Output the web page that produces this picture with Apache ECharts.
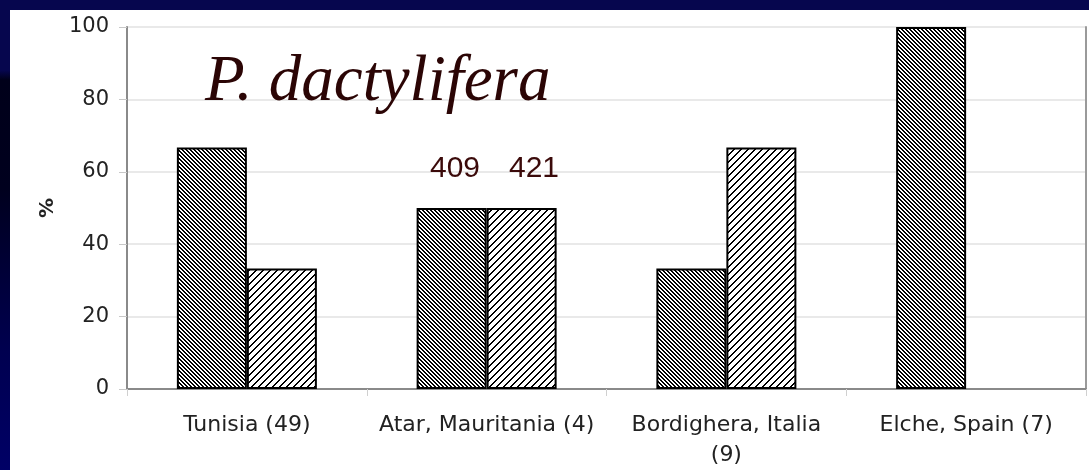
<!DOCTYPE html>
<html>
<head>
<meta charset="utf-8">
<script src="https://cdn.jsdelivr.net/npm/echarts@6/dist/echarts.min.js"></script>
<style>
  html, body { margin: 0; padding: 0; }
  #main { width: 1089px; height: 470px; }
</style>
</head>
<body>
<div id="main"></div>
<script>
// data
var categories = ['Tunisia (49)', 'Atar, Mauritania (4)', 'Bordighera, Italia\n(9)', 'Elche, Spain (7)']
var seriesA = [66.7, 50, 33.3, 100]
var seriesB = [33.3, 50, 66.7, 0]
var yTicks = { min: 0, max: 100, interval: 20 }

// pixel hatch: period px, 'on' px black per period, dir 'back' = \ , 'fwd' = /
function hatch (period, on, dir) {
  var c = document.createElement('canvas')
  c.width = period
  c.height = period
  var ctx = c.getContext('2d')
  ctx.fillStyle = '#fff'
  ctx.fillRect(0, 0, period, period)
  ctx.fillStyle = '#000'
  for (var y = 0; y < period; y++) {
    for (var x = 0; x < period; x++) {
      var k = dir === 'back' ? (x - y + period * 2) % period : (x + y) % period
      if (k < on) ctx.fillRect(x, y, 1, 1)
    }
  }
  return c
}

var chart = echarts.init(document.getElementById('main'))

var option = {
  backgroundColor: {
    type: 'linear', x: 0, y: 0, x2: 0, y2: 1,
    colorStops: [
      { offset: 0, color: '#06064e' },
      { offset: 0.15, color: '#06064e' },
      { offset: 0.17, color: '#00001a' },
      { offset: 0.4, color: '#00001e' },
      { offset: 0.75, color: '#000050' },
      { offset: 1, color: '#000066' }
    ]
  },
  animation: false,
  graphic: [
    {
      type: 'rect', z: -10, silent: true,
      shape: { x: 10, y: 10, width: 1079, height: 460 },
      style: { fill: '#fff' }
    },
    {
      type: 'text', left: 205, top: 50, z: 10,
      style: { text: 'P. dactylifera', font: 'italic 65px "Liberation Serif", "DejaVu Serif", serif', fill: '#2b0505' }
    },
    {
      type: 'text', left: 430, top: 154, z: 10,
      style: { text: '409', font: '30px "Liberation Sans", sans-serif', fill: '#3b0a0a' }
    },
    {
      type: 'text', left: 509, top: 154, z: 10,
      style: { text: '421', font: '30px "Liberation Sans", sans-serif', fill: '#3b0a0a' }
    }
  ],
  grid: { left: 127, right: 3, top: 27, bottom: 81 },
  xAxis: {
    type: 'category',
    data: categories,
    axisLine: { lineStyle: { color: '#8a8a8a', width: 2 } },
    axisTick: { show: true, length: 7, lineStyle: { color: '#d0d0d0', width: 1 } },
    axisLabel: {
      interval: 0,
      color: '#222',
      fontFamily: 'DejaVu Sans',
      fontSize: 22,
      lineHeight: 30,
      margin: 21
    }
  },
  yAxis: [
    {
      type: 'value',
      min: yTicks.min,
      max: yTicks.max,
      interval: yTicks.interval,
      name: '%',
      nameLocation: 'middle',
      nameRotate: 90,
      nameGap: 69,
      nameTextStyle: { color: '#222', fontFamily: 'DejaVu Sans', fontSize: 20, fontWeight: 'bold' },
      axisLine: { show: true, lineStyle: { color: '#8a8a8a', width: 2 } },
      axisTick: { show: true, length: 8, lineStyle: { color: '#c8c8c8' } },
      axisLabel: { color: '#222', fontFamily: 'DejaVu Sans', fontSize: 21, margin: 18 },
      splitLine: { lineStyle: { color: '#e2e2e2', width: 1.5 } }
    },
    {
      type: 'value',
      position: 'right',
      min: yTicks.min,
      max: yTicks.max,
      interval: yTicks.interval,
      axisLine: { show: true, lineStyle: { color: '#9a9a9a', width: 2 } },
      axisTick: { show: false },
      axisLabel: { show: false },
      splitLine: { show: false }
    }
  ],
  series: [
    {
      type: 'bar',
      data: seriesA,
      barWidth: 70,
      barGap: '0%',
      itemStyle: {
        color: { image: hatch(4, 2, 'back'), repeat: 'repeat' },
        borderColor: '#000',
        borderWidth: 2
      }
    },
    {
      type: 'bar',
      data: seriesB.map(function (v) {
        return v === 0 ? { value: v, itemStyle: { borderWidth: 0 } } : v
      }),
      barWidth: 70,
      itemStyle: {
        color: { image: hatch(7, 2, 'fwd'), repeat: 'repeat' },
        borderColor: '#000',
        borderWidth: 2
      }
    }
  ]
}

chart.setOption(option)
</script>
</body>
</html>
